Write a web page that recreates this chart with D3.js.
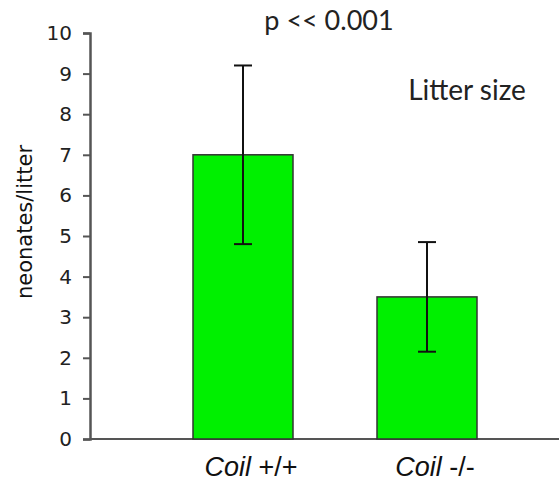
<!DOCTYPE html>
<html>
<head>
<meta charset="utf-8">
<script src="https://cdn.jsdelivr.net/npm/d3@7"></script>
<style>
  body { margin: 0; background: #fff; }
</style>
</head>
<body>
<div id="chart"></div>
<script>
// data
var genotypes = ["+/+", "-/-"];
var litterMeans = [7.0, 3.5];
var litterErr = [2.2, 1.35];
var yTicks = [0, 1, 2, 3, 4, 5, 6, 7, 8, 9, 10];

var svgWidth = 559;
var svgHeight = 482;

var margin = { top: 33, right: 0, bottom: 43, left: 90 };
var height = svgHeight - margin.top - margin.bottom;

var svg = d3.select("#chart")
  .append("svg")
  .attr("width", svgWidth)
  .attr("height", svgHeight);

var chartGroup = svg.append("g")
  .attr("transform", `translate(${margin.left}, ${margin.top})`);

var xScale = d3.scaleBand()
  .domain(genotypes)
  .range([103, 387])
  .paddingInner(0.84 / 1.84)
  .paddingOuter(0);

var yScale = d3.scaleLinear()
  .domain([0, 10])
  .range([height, 0]);

// y axis
var leftAxis = d3.axisLeft(yScale)
  .tickValues(yTicks)
  .tickSize(7)
  .tickPadding(11);

var yAxisG = chartGroup.append("g").call(leftAxis);
yAxisG.select(".domain").attr("stroke", "#555").attr("stroke-width", 2.5);
yAxisG.selectAll(".tick line").attr("stroke", "#555").attr("stroke-width", 2);
yAxisG.selectAll("text")
  .attr("font-family", "DejaVu Sans, Verdana, sans-serif")
  .attr("font-size", "20px")
  .attr("fill", "#222");

// x axis line
chartGroup.append("line")
  .attr("x1", 0)
  .attr("x2", svgWidth - margin.left)
  .attr("y1", height)
  .attr("y2", height)
  .attr("stroke", "#555")
  .attr("stroke-width", 2);

// bars
chartGroup.selectAll("rect.bar")
  .data(genotypes)
  .enter()
  .append("rect")
  .attr("class", "bar")
  .attr("x", d => xScale(d))
  .attr("y", (d, i) => yScale(litterMeans[i]))
  .attr("width", xScale.bandwidth())
  .attr("height", (d, i) => height - yScale(litterMeans[i]))
  .attr("fill", "#00f000")
  .attr("stroke", "#333")
  .attr("stroke-width", 1.5);

// error bars
var errG = chartGroup.selectAll("g.err")
  .data(genotypes)
  .enter()
  .append("g")
  .attr("class", "err")
  .attr("stroke", "#111")
  .attr("stroke-width", 2);

errG.append("line")
  .attr("x1", d => xScale(d) + xScale.bandwidth() / 2)
  .attr("x2", d => xScale(d) + xScale.bandwidth() / 2)
  .attr("y1", (d, i) => yScale(litterMeans[i] + litterErr[i]))
  .attr("y2", (d, i) => yScale(litterMeans[i] - litterErr[i]));

[1, -1].forEach(sign => {
  errG.append("line")
    .attr("x1", d => xScale(d) + xScale.bandwidth() / 2 - 9)
    .attr("x2", d => xScale(d) + xScale.bandwidth() / 2 + 9)
    .attr("y1", (d, i) => yScale(litterMeans[i] + sign * litterErr[i]))
    .attr("y2", (d, i) => yScale(litterMeans[i] + sign * litterErr[i]));
});

// x labels
var xLab = chartGroup.selectAll("text.xlab")
  .data(genotypes)
  .enter()
  .append("text")
  .attr("class", "xlab")
  .attr("x", d => xScale(d) + xScale.bandwidth() / 2 + 8)
  .attr("y", height + 37)
  .attr("text-anchor", "middle")
  .attr("font-family", "Liberation Sans, Arial, sans-serif")
  .attr("font-size", "27px")
  .attr("fill", "#111");
xLab.append("tspan").attr("font-style", "italic").text("Coil");
xLab.append("tspan").text(d => " " + d);

// y label
chartGroup.append("text")
  .attr("transform", "rotate(-90)")
  .attr("x", -189)
  .attr("y", -58)
  .attr("text-anchor", "middle")
  .attr("font-family", "DejaVu Sans, Verdana, sans-serif")
  .attr("font-size", "21px")
  .attr("fill", "#111")
  .text("neonates/litter");

// annotations
svg.append("text")
  .attr("x", 329)
  .attr("y", 30)
  .attr("text-anchor", "middle")
  .attr("font-family", "Lato, Open Sans, sans-serif")
  .attr("font-size", "27px")
  .attr("fill", "#222")
  .text("p << 0.001");

svg.append("text")
  .attr("x", 467)
  .attr("y", 100)
  .attr("text-anchor", "middle")
  .attr("font-family", "Lato, Open Sans, sans-serif")
  .attr("font-size", "28px")
  .attr("fill", "#222")
  .text("Litter size");
</script>
</body>
</html>
